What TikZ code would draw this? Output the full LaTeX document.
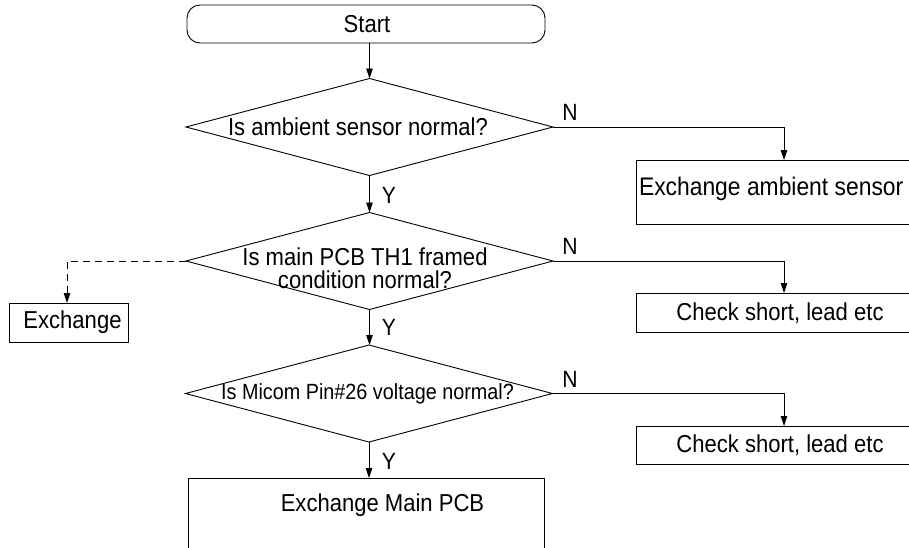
\documentclass[tikz,border=0pt]{standalone}
\usepackage{fontspec}
\setmainfont{Liberation Sans}[FakeStretch=0.9]
\usetikzlibrary{shapes.geometric,arrows.meta,calc}
\begin{document}
\begin{tikzpicture}[x=1pt,y=-1pt,
  every node/.style={inner sep=0pt,outer sep=0pt},
  ln/.style={line width=0.9pt,draw=black},
  arr/.style={ln,-{Triangle[length=10pt,width=6.5pt]}},
  dsh/.style={arr,dash pattern=on 7pt off 5pt},
  decision/.style={shape=diamond,ln,aspect=3.8,minimum width=367pt,minimum height=97pt},
  boxn/.style={shape=rectangle,ln},
  txt/.style={font=\fontsize{24.5pt}{25pt}\selectfont},
  txtsm/.style={font=\fontsize{22pt}{23pt}\selectfont},
  yn/.style={font=\fontsize{23.5pt}{24pt}\selectfont}
]
\useasboundingbox (0,0) rectangle (909,547);
\clip (0,0) rectangle (909,547);
\fill[white] (0,0) rectangle (909,547);

% shapes
\node[boxn,rounded corners=13pt,minimum width=358pt,minimum height=38pt] (start) at (366,24) {};
\node[txt] (startt) at (367,24) {Start};

\node[decision] (d1) at (369.5,127) {};
\node[txt] (d1t) at (358,127) {Is ambient sensor normal?};

\node[decision] (d2) at (369.5,261) {};
\node[txt,align=center,font=\fontsize{24.5pt}{23pt}\selectfont] (d2t) at (365,268) {Is main PCB TH1 framed\\condition normal?};

\node[decision] (d3) at (369,393.5) {};
\node[txtsm] (d3t) at (367.5,394) {Is Micom Pin\#26 voltage normal?};

\node[boxn,minimum width=300pt,minimum height=64pt,anchor=north west] (b1) at (636,160) {};
\node[txt,anchor=west,font=\fontsize{25.4pt}{26pt}\selectfont] (b1t) at (639,188.5) {Exchange ambient sensor};

\node[boxn,minimum width=300pt,minimum height=39pt,anchor=north west] (b2) at (636,293) {};
\node[txt] (b2t) at (780,313) {Check short, lead etc};

\node[boxn,minimum width=300pt,minimum height=38pt,anchor=north west] (b3) at (636,426) {};
\node[txt] (b3t) at (780,445.5) {Check short, lead etc};

\node[boxn,minimum width=119pt,minimum height=39pt] (ex) at (68.5,322.5) {};
\node[txt] (ext) at (72.5,322.5) {Exchange};

\node[boxn,minimum width=356pt,minimum height=100pt,anchor=north] (mp) at (366,478) {};
\node[txt] (mpt) at (382.5,505) {Exchange Main PCB};

% connectors
\draw[arr] (start.south -| d1.north) -- (d1.north);
\draw[arr] (d1.south) -- (d2.north);
\draw[arr] (d2.south) -- (d3.north -| d2.south);
\draw[arr] (d3.south) -- (mp.north -| d3.south);

\draw[arr] (d1.east) -| ($(b1.north west)+(148,0)$);
\draw[arr] (d2.east) -| ($(b2.north west)+(148,0)$);
\draw[arr] (d3.east) -| ($(b3.north west)+(148,0)$);

\draw[dsh] (d2.west) -| ($(ex.north)+(-1.5,0)$);

% labels
\node[yn] (y1) at (389,195) {Y};
\node[yn] (y2) at (389,327) {Y};
\node[yn] (y3) at (389,461) {Y};
\node[yn] (n1) at (570,112) {N};
\node[yn] (n2) at (570,246) {N};
\node[yn] (n3) at (570,379) {N};
\end{tikzpicture}
\end{document}
